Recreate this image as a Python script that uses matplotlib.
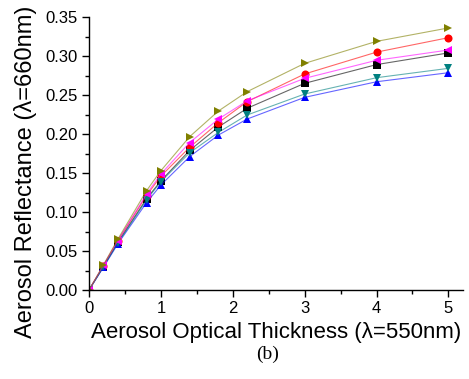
import matplotlib
matplotlib.use("Agg")
import matplotlib.pyplot as plt
from matplotlib.ticker import MultipleLocator, FormatStrFormatter

aot = [0, 0.2, 0.4, 0.8, 1.0, 1.4, 1.8, 2.2, 3, 4, 5]

black = [0, 0.030, 0.061, 0.117, 0.140, 0.179, 0.209, 0.233, 0.265, 0.289, 0.304]
red = [0, 0.031, 0.063, 0.121, 0.146, 0.183, 0.2145, 0.2415, 0.277, 0.305, 0.3235]
blue = [0, 0.029, 0.059, 0.112, 0.1346, 0.171, 0.1987, 0.2192, 0.247, 0.267, 0.2786]
teal = [0, 0.030, 0.060, 0.1154, 0.139, 0.176, 0.2021, 0.2244, 0.2513, 0.2722, 0.2842]
magenta = [0, 0.032, 0.063, 0.123, 0.1487, 0.189, 0.2192, 0.2425, 0.2714, 0.2945, 0.3077]
olive = [0, 0.032, 0.065, 0.1273, 0.153, 0.1966, 0.2295, 0.2543, 0.2906, 0.3188, 0.336]

series = [
    (black, "#000000", "s"),
    (red, "#ff0000", "o"),
    (blue, "#0000ff", "^"),
    (teal, "#008080", "v"),
    (magenta, "#ff00ff", "<"),
    (olive, "#808000", ">"),
]

plt.rcParams["font.family"] = ["Liberation Sans", "DejaVu Sans"]

fig = plt.figure(figsize=(4.69, 3.79), dpi=100)
ax = fig.add_axes([0.1898, 0.2348, 0.797, 0.7203])

for vals, col, mk in series:
    ax.plot(aot, vals, color=col, linewidth=0.8, alpha=0.6)
    ax.plot(aot, vals, color=col, marker=mk, markersize=5.8, linestyle="none",
            markeredgewidth=0)

ax.set_xlim(0, 5.2)
ax.set_ylim(0, 0.35)
ax.xaxis.set_major_locator(MultipleLocator(1))
ax.xaxis.set_minor_locator(MultipleLocator(0.5))
ax.yaxis.set_major_locator(MultipleLocator(0.05))
ax.yaxis.set_minor_locator(MultipleLocator(0.025))
ax.yaxis.set_major_formatter(FormatStrFormatter("%.2f"))

for s in ["top", "right"]:
    ax.spines[s].set_visible(False)
for s in ["left", "bottom"]:
    ax.spines[s].set_linewidth(1.0)

ax.tick_params(which="major", direction="out", length=5, width=1.0, labelsize=12, pad=3)
ax.tick_params(which="minor", direction="out", length=3, width=1.0)

ax.set_xlabel("Aerosol Optical Thickness (\u03bb=550nm)", fontsize=16, labelpad=4)
fig.text(26 / 469, 1 - 172 / 379, "Aerosol Reflectance (\u03bb=660nm)", fontsize=17,
         rotation=90, ha="center", va="center")

fig.text(0.571, 0.065, "(b)", fontsize=14, ha="center", va="center",
         family=["Liberation Serif", "DejaVu Serif"])

fig.savefig("out.png", dpi=100)
